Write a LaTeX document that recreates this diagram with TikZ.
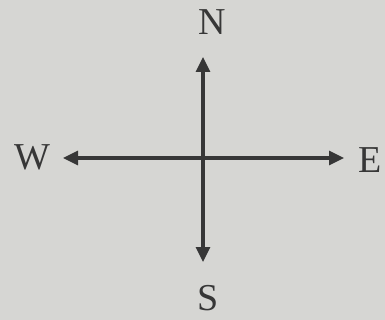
\documentclass[tikz,border=0pt]{standalone}
\usepackage{fontspec}
\setmainfont{Liberation Serif}
\usepackage{xcolor}
\usetikzlibrary{arrows.meta}
\definecolor{paper}{RGB}{214, 214, 211}
\definecolor{ink}{RGB}{55, 55, 55}

\begin{document}
\begin{tikzpicture}[
    x=1pt, y=-1pt,
    dir/.style={text=ink, font=\fontsize{38}{38}\selectfont, inner sep=0pt},
    arrow/.style={-{Triangle[length=15pt, width=14pt]}, line width=3.2pt, color=ink}
]
    \fill[paper] (0,0) rectangle (385,320);
    \useasboundingbox (0,0) rectangle (385,320);

    \coordinate (c) at (203,158);
    \coordinate (ntip) at (203,57);
    \coordinate (stip) at (203,262);
    \coordinate (wtip) at (63,158);
    \coordinate (etip) at (344,158);

    \node[dir] (n) at (212,22) {N};
    \node[dir] (s) at (208,298) {S};
    \node[dir] (w) at (32,157) {W};
    \node[dir] (e) at (370,160) {E};

    \draw[arrow] (c) -- (ntip);
    \draw[arrow] (c) -- (stip);
    \draw[arrow] (c) -- (wtip);
    \draw[arrow] (c) -- (etip);
\end{tikzpicture}
\end{document}
